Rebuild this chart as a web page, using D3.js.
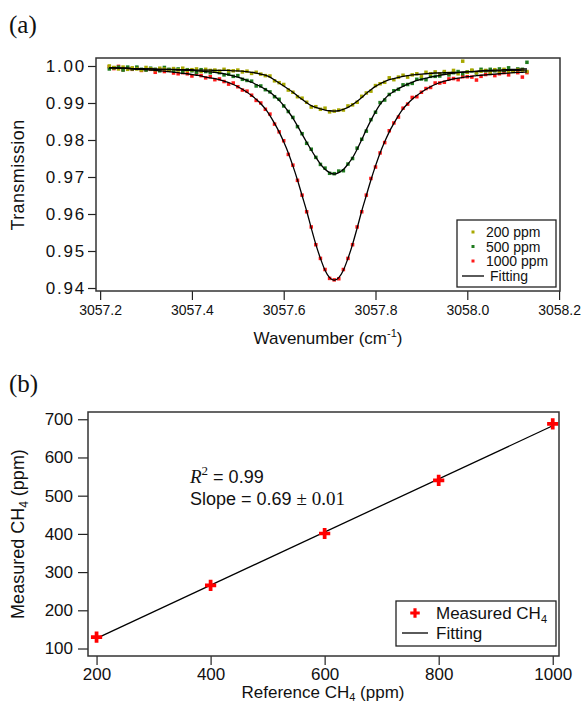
<!DOCTYPE html>
<html>
<head>
<meta charset="utf-8">
<script src="https://cdn.jsdelivr.net/npm/d3@7"></script>
<style>
  body { margin: 0; background: #fff; }
  svg text { font-family: "Liberation Sans", Arial, Helvetica, sans-serif; fill: #111; }
  .axis path { display: none; }
  .axis line { stroke: #222; stroke-width: 1.2; }
  .axis text { font-size: 17px; }
  .axis-ax text { font-size: 14px; }
  .axis-ay text { font-size: 17px; letter-spacing: 1.8px; }
  .serif { font-family: "Liberation Serif", "Times New Roman", serif !important; }
</style>
</head>
<body>
<svg id="chart" width="581" height="704"></svg>
<script>
// ---- Panel (a): transmission spectra ----
const wavenumber = [
  3057.22, 3057.23, 3057.24, 3057.25, 3057.26, 3057.27, 3057.28, 3057.29, 3057.30, 3057.31,
  3057.32, 3057.33, 3057.34, 3057.35, 3057.36, 3057.37, 3057.38, 3057.39, 3057.40, 3057.41,
  3057.42, 3057.43, 3057.44, 3057.45, 3057.46, 3057.47, 3057.48, 3057.49, 3057.50, 3057.51,
  3057.52, 3057.53, 3057.54, 3057.55, 3057.56, 3057.57, 3057.58, 3057.59, 3057.60, 3057.61,
  3057.62, 3057.63, 3057.64, 3057.65, 3057.66, 3057.67, 3057.68, 3057.69, 3057.70, 3057.71,
  3057.72, 3057.73, 3057.74, 3057.75, 3057.76, 3057.77, 3057.78, 3057.79, 3057.80, 3057.81,
  3057.82, 3057.83, 3057.84, 3057.85, 3057.86, 3057.87, 3057.88, 3057.89, 3057.90, 3057.91,
  3057.92, 3057.93, 3057.94, 3057.95, 3057.96, 3057.97, 3057.98, 3057.99, 3058.00, 3058.01,
  3058.02, 3058.03, 3058.04, 3058.05, 3058.06, 3058.07, 3058.08, 3058.09, 3058.10, 3058.11,
  3058.12, 3058.13
];

// measured transmission, 200 ppm
const t200 = [
  1.0000, .9996, .9992, .9997, .9991, .9995, .9992, .9989, .9996, .9992,
  .9990, .9994, .9992, .9988, .9993, .9989, .9994, .9988, .9990, .9992,
  .9985, .9991, .9988, .9989, .9986, .9991, .9987, .9987, .9989, .9984,
  .9986, .9980, .9983, .9978, .9974, .9973, .9960, .9955, .9950, .9935,
  .9929, .9917, .9913, .9902, .9889, .9890, .9883, .9886, .9876, .9878,
  .9881, .9881, .9892, .9895, .9902, .9918, .9927, .9932, .9947, .9952,
  .9956, .9968, .9963, .9970, .9975, .9970, .9976, .9979, .9973, .9983,
  .9979, .9984, .9979, .9985, .9980, .9988, .9979, 1.0013, .9983, .9989,
  .9982, .9986, .9988, .9981, .9990, .9986, .9991, .9986, .9985, .9990,
  .9989, .9985
];
// measured transmission, 500 ppm
const t500 = [
  .9992, .9995, .9997, .9989, .9997, .9992, .9997, .9991, .9989, .9994,
  .9991, .9987, .9996, .9991, .9988, .9992, .9986, .9990, .9987, .9983,
  .9990, .9985, .9982, .9986, .9982, .9976, .9978, .9972, .9974, .9964,
  .9961, .9959, .9946, .9946, .9936, .9930, .9917, .9910, .9892, .9877,
  .9861, .9836, .9817, .9791, .9775, .9753, .9734, .9724, .9710, .9709,
  .9716, .9717, .9735, .9750, .9778, .9802, .9824, .9855, .9875, .9901,
  .9908, .9923, .9933, .9937, .9949, .9950, .9953, .9964, .9965, .9963,
  .9972, .9972, .9973, .9982, .9976, .9982, .9985, .9979, .9984, .9987,
  .9981, .9991, .9987, .9991, .9987, .9992, .9988, .9995, .9987, .9992,
  .9991, 1.0010
];
// measured transmission, 1000 ppm
const t1000 = [
  .9998, .9993, .9999, .9990, .9994, .9991, .9995, .9988, .9990, .9991,
  .9983, .9990, .9985, .9989, .9981, .9979, .9982, .9979, .9973, .9980,
  .9974, .9968, .9971, .9963, .9965, .9958, .9951, .9954, .9944, .9935,
  .9932, .9921, .9907, .9900, .9883, .9870, .9843, .9822, .9798, .9761,
  .9732, .9691, .9651, .9606, .9565, .9517, .9480, .9450, .9426, .9422,
  .9425, .9450, .9480, .9517, .9565, .9606, .9651, .9696, .9727, .9765,
  .9793, .9825, .9846, .9862, .9886, .9897, .9915, .9917, .9929, .9939,
  .9942, .9954, .9954, .9956, .9965, .9966, .9963, .9971, .9971, .9970,
  .9962, .9972, .9977, .9980, .9974, .9979, .9982, .9976, .9986, .9982,
  .9970, .9982
];

// fitted profiles
const fit200 = [
  .9995, .9995, .9994, .9994, .9994, .9993, .9993, .9993, .9992, .9992,
  .9992, .9991, .9991, .9991, .9991, .9990, .9990, .9990, .9990, .9989,
  .9989, .9989, .9989, .9988, .9988, .9988, .9988, .9987, .9987, .9986,
  .9985, .9983, .9981, .9978, .9975, .9970, .9962, .9954, .9946, .9938,
  .9929, .9919, .9910, .9901, .9893, .9888, .9884, .9881, .9879, .9878,
  .9879, .9883, .9888, .9896, .9905, .9915, .9926, .9936, .9945, .9952,
  .9958, .9963, .9966, .9969, .9972, .9974, .9976, .9977, .9978, .9979,
  .9980, .9981, .9981, .9982, .9982, .9983, .9983, .9984, .9984, .9985,
  .9985, .9986, .9986, .9986, .9987, .9987, .9987, .9988, .9988, .9988,
  .9989, .9989
];
const fit500 = [
  .9995, .9995, .9995, .9994, .9994, .9993, .9993, .9993, .9992, .9992,
  .9991, .9991, .9991, .9990, .9990, .9989, .9989, .9988, .9988, .9987,
  .9986, .9985, .9984, .9983, .9981, .9979, .9976, .9973, .9970, .9966,
  .9961, .9956, .9950, .9944, .9937, .9929, .9919, .9907, .9893, .9877,
  .9859, .9838, .9816, .9794, .9773, .9753, .9735, .9721, .9712, .9708,
  .9712, .9720, .9735, .9752, .9775, .9801, .9828, .9853, .9876, .9896,
  .9911, .9923, .9931, .9939, .9945, .9951, .9956, .9961, .9964, .9967,
  .9970, .9972, .9975, .9977, .9979, .9981, .9982, .9983, .9984, .9985,
  .9986, .9987, .9988, .9988, .9989, .9989, .9990, .9990, .9991, .9991,
  .9992, .9992
];
const fit1000 = [
  .9995, .9995, .9994, .9994, .9993, .9992, .9991, .9991, .9990, .9989,
  .9988, .9987, .9986, .9985, .9983, .9982, .9980, .9979, .9977, .9975,
  .9973, .9970, .9968, .9966, .9963, .9959, .9955, .9950, .9944, .9937,
  .9929, .9920, .9910, .9898, .9884, .9866, .9845, .9822, .9795, .9765,
  .9730, .9692, .9650, .9608, .9562, .9518, .9480, .9448, .9428, .9421,
  .9428, .9448, .9480, .9518, .9562, .9608, .9650, .9692, .9730, .9765,
  .9795, .9822, .9845, .9866, .9884, .9898, .9910, .9920, .9929, .9937,
  .9944, .9950, .9955, .9959, .9962, .9965, .9967, .9969, .9971, .9972,
  .9974, .9975, .9976, .9977, .9978, .9979, .9980, .9981, .9982, .9983,
  .9983, .9984
];

const seriesNames = ["1000 ppm", "500 ppm", "200 ppm"];
const seriesColors = ["#ff1a1a", "#1e7b1e", "#a8a800"];
const xTicksA = [3057.2, 3057.4, 3057.6, 3057.8, 3058.0, 3058.2];
const yTicksA = [0.94, 0.95, 0.96, 0.97, 0.98, 0.99, 1.00];

// ---- Panel (b): calibration ----
const refCH4 = [200, 400, 600, 800, 1000];
const measuredCH4 = [130, 265, 401, 540, 688];
const fitRefCH4 = [200, 1000];
const fitMeasuredCH4 = [126.6, 683];
const xTicksB = [200, 400, 600, 800, 1000];
const yTicksB = [100, 200, 300, 400, 500, 600, 700];

const svg = d3.select("#chart");

// ================= panel (a) =================
const xA = d3.scaleLinear().domain([3057.191, 3058.202]).range([96, 560]);
const yA = d3.scaleLinear().domain([0.93919, 1.00216]).range([291, 58]);
const gA = svg.append("g");

gA.append("g")
  .attr("class", "axis axis-ax")
  .attr("transform", `translate(0,${yA.range()[0]})`)
  .call(d3.axisBottom(xA).tickValues(xTicksA).tickFormat(d3.format(".1f")).tickSize(9).tickPadding(5));

gA.append("g")
  .attr("class", "axis axis-ay")
  .attr("transform", `translate(${xA.range()[0]},0)`)
  .call(d3.axisLeft(yA).tickValues(yTicksA).tickFormat(d3.format(".2f")).tickSize(8).tickPadding(2));

const seriesA = [
  { values: t1000, fit: fit1000 },
  { values: t500, fit: fit500 },
  { values: t200, fit: fit200 }
];

seriesA.forEach((s, k) => {
  gA.append("g")
    .selectAll("rect")
    .data(s.values)
    .join("rect")
      .attr("x", (d, i) => xA(wavenumber[i]) - 1.75)
      .attr("y", d => yA(d) - 1.75)
      .attr("width", 3.5)
      .attr("height", 3.5)
      .attr("fill", seriesColors[k]);
});

const fitLine = d3.line()
  .x((d, i) => xA(wavenumber[i]))
  .y(d => yA(d))
  .curve(d3.curveMonotoneX);

seriesA.forEach(s => {
  gA.append("path")
    .attr("d", fitLine(s.fit))
    .attr("fill", "none")
    .attr("stroke", "#000")
    .attr("stroke-width", 1.3);
});

// frame
gA.append("rect")
  .attr("x", xA.range()[0])
  .attr("y", yA.range()[1])
  .attr("width", xA.range()[1] - xA.range()[0])
  .attr("height", yA.range()[0] - yA.range()[1])
  .attr("fill", "none")
  .attr("stroke", "#333")
  .attr("stroke-width", 1.5);

// axis titles
gA.append("text")
  .attr("transform", "translate(24,175) rotate(-90)")
  .attr("text-anchor", "middle")
  .attr("font-size", "18px")
  .attr("letter-spacing", "0.4px")
  .text("Transmission");

const xTitleA = gA.append("text")
  .attr("x", 328)
  .attr("y", 344)
  .attr("text-anchor", "middle")
  .attr("font-size", "17px");
xTitleA.append("tspan").text("Wavenumber (cm");
xTitleA.append("tspan").attr("dy", -7).attr("font-size", "11px").text("-1");
xTitleA.append("tspan").attr("dy", 7).text(")");

// legend (a)
const legA = gA.append("g");
legA.append("rect")
  .attr("x", 457).attr("y", 220).attr("width", 99).attr("height", 67)
  .attr("fill", "#fff").attr("stroke", "#222").attr("stroke-width", 1.3);
const legOrder = [2, 1, 0];
legOrder.forEach((k, r) => {
  const y = 232 + r * 14.5;
  legA.append("rect")
    .attr("x", 471.5).attr("y", y - 1.5).attr("width", 3).attr("height", 3)
    .attr("fill", seriesColors[k]);
  legA.append("text")
    .attr("x", 486).attr("y", y + 5)
    .attr("font-size", "14px")
    .text(seriesNames[k]);
});
legA.append("line")
  .attr("x1", 462).attr("x2", 484).attr("y1", 276).attr("y2", 276)
  .attr("stroke", "#000").attr("stroke-width", 1.3);
legA.append("text")
  .attr("x", 490).attr("y", 281)
  .attr("font-size", "14px")
  .text("Fitting");

svg.append("text")
  .attr("class", "serif")
  .attr("x", 9).attr("y", 33)
  .attr("font-size", "25px")
  .text("(a)");

// ================= panel (b) =================
const xB = d3.scaleLinear().domain([185, 1011]).range([88, 559]);
const yB = d3.scaleLinear().domain([80.4, 719]).range([656, 412]);
const gB = svg.append("g");

gB.append("g")
  .attr("class", "axis")
  .attr("transform", `translate(0,${yB.range()[0]})`)
  .call(d3.axisBottom(xB).tickValues(xTicksB).tickFormat(d3.format("d")).tickSize(9).tickPadding(3));

gB.append("g")
  .attr("class", "axis")
  .attr("transform", `translate(${xB.range()[0]},0)`)
  .call(d3.axisLeft(yB).tickValues(yTicksB).tickFormat(d3.format("d")).tickSize(10).tickPadding(5));

gB.append("path")
  .attr("d", d3.line().x((d, i) => xB(fitRefCH4[i])).y(d => yB(d))(fitMeasuredCH4))
  .attr("fill", "none")
  .attr("stroke", "#000")
  .attr("stroke-width", 1.3);

const cross = d3.symbol(d3.symbolCross, 70);
gB.selectAll("path.pt")
  .data(measuredCH4)
  .join("path")
    .attr("class", "pt")
    .attr("transform", (d, i) => `translate(${xB(refCH4[i])},${yB(d)})`)
    .attr("d", cross)
    .attr("fill", "#ff0000");

gB.append("rect")
  .attr("x", xB.range()[0])
  .attr("y", yB.range()[1])
  .attr("width", xB.range()[1] - xB.range()[0])
  .attr("height", yB.range()[0] - yB.range()[1])
  .attr("fill", "none")
  .attr("stroke", "#333")
  .attr("stroke-width", 1.5);

// annotation
const r2 = gB.append("text").attr("x", 190).attr("y", 483).attr("font-size", "18px");
r2.append("tspan").attr("class", "serif").attr("font-style", "italic").attr("font-size", "19px").text("R");
r2.append("tspan").attr("class", "serif").attr("dy", -8).attr("font-size", "13px").text("2");
r2.append("tspan").attr("dy", 8).text(" = 0.99");

const slope = gB.append("text").attr("x", 190).attr("y", 505).attr("font-size", "18px");
slope.append("tspan").text("Slope = 0.69 ");
slope.append("tspan").attr("class", "serif").attr("font-size", "19px").text("± 0.01");

// axis titles
const yTitleB = gB.append("text")
  .attr("transform", "translate(24,534) rotate(-90)")
  .attr("text-anchor", "middle")
  .attr("font-size", "18px");
yTitleB.append("tspan").text("Measured CH");
yTitleB.append("tspan").attr("dy", 4).attr("font-size", "12px").text("4");
yTitleB.append("tspan").attr("dy", -4).text(" (ppm)");

const xTitleB = gB.append("text")
  .attr("x", 323).attr("y", 698)
  .attr("text-anchor", "middle")
  .attr("font-size", "17px");
xTitleB.append("tspan").text("Reference CH");
xTitleB.append("tspan").attr("dy", 3).attr("font-size", "11px").text("4");
xTitleB.append("tspan").attr("dy", -3).text(" (ppm)");

// legend (b)
const legB = gB.append("g");
legB.append("rect")
  .attr("x", 396).attr("y", 601).attr("width", 160).attr("height", 45)
  .attr("fill", "#fff").attr("stroke", "#222").attr("stroke-width", 1.3);
legB.append("path")
  .attr("transform", "translate(415,613)")
  .attr("d", d3.symbol(d3.symbolCross, 50))
  .attr("fill", "#ff0000");
const legBText = legB.append("text").attr("x", 436).attr("y", 619).attr("font-size", "17px");
legBText.append("tspan").text("Measured CH");
legBText.append("tspan").attr("dy", 4).attr("font-size", "11px").text("4");
legB.append("line")
  .attr("x1", 402).attr("x2", 428).attr("y1", 633).attr("y2", 633)
  .attr("stroke", "#000").attr("stroke-width", 1.3);
legB.append("text")
  .attr("x", 436).attr("y", 639)
  .attr("font-size", "17px")
  .text("Fitting");

svg.append("text")
  .attr("class", "serif")
  .attr("x", 9).attr("y", 392)
  .attr("font-size", "25px")
  .text("(b)");
</script>
</body>
</html>
